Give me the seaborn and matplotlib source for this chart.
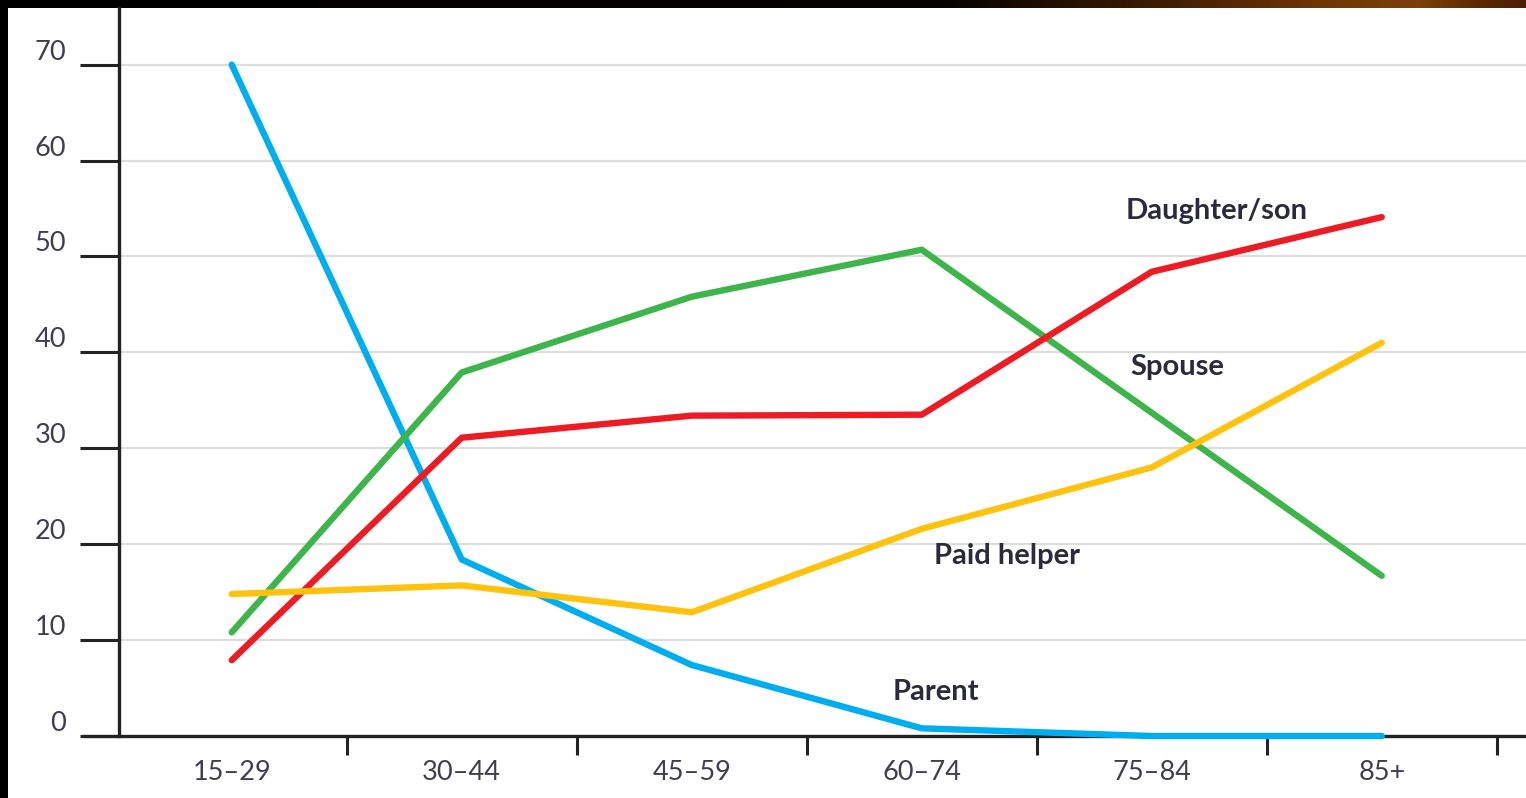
import numpy as np
import pandas as pd
import matplotlib
matplotlib.use("Agg")
import matplotlib.pyplot as plt
from matplotlib.colors import LinearSegmentedColormap
import seaborn as sns

# Age groups of the carer and who they care for (%)
age_groups = ["15–29", "30–44", "45–59", "60–74", "75–84", "85+"]
parent = [70.0, 18.4, 7.4, 0.8, 0.0, 0.0]
spouse = [10.8, 37.9, 45.8, 50.7, 33.7, 16.7]
daughter_son = [7.9, 31.1, 33.4, 33.5, 48.4, 54.1]
paid_helper = [14.8, 15.7, 12.9, 21.6, 28.0, 41.0]

series_names = ["Parent", "Spouse", "Daughter/son", "Paid helper"]
series_values = [parent, spouse, daughter_son, paid_helper]
series_colors = ["#00aeef", "#3db54a", "#ed1c24", "#ffc20e"]

y_ticks = [0, 10, 20, 30, 40, 50, 60, 70]

# inline series labels: (text, x position, y value)
label_text = ["Daughter/son", "Spouse", "Paid helper", "Parent"]
label_x = [4.28, 4.11, 3.37, 3.06]
label_y = [54.7, 38.5, 18.8, 4.6]

rows = []
for name, vals in zip(series_names, series_values):
    for i, (g, v) in enumerate(zip(age_groups, vals)):
        rows.append({"pos": i, "age": g, "series": name, "value": v})
df = pd.DataFrame(rows)

sns.set_theme(style="white")
plt.rcParams["font.family"] = ["Lato", "DejaVu Sans"]

W, H = 1526, 798
fig = plt.figure(figsize=(W / 100, H / 100), dpi=100)
fig.patch.set_facecolor("white")

# dark frame strips
top_h = 8 / H
left_w = 8 / W
strip = fig.add_axes([0, 1 - top_h, 1, top_h])
grad_cmap = LinearSegmentedColormap.from_list(
    "strip",
    [(0.0, "#000000"), (0.62, "#060300"), (0.74, "#341800"),
     (0.86, "#6e3404"), (0.93, "#7e4008"), (0.97, "#5e2a02"),
     (1.0, "#4a2000")])
strip.imshow(np.linspace(0, 1, 512)[None, :], aspect="auto", cmap=grad_cmap,
             extent=[0, 1, 0, 1])
strip.set_axis_off()
left_strip = fig.add_axes([0, 0, left_w, 1 - top_h])
left_strip.set_facecolor("black")
left_strip.set_xticks([])
left_strip.set_yticks([])
for s in left_strip.spines.values():
    s.set_visible(False)

# main plot area
ax_left = 119 / W
ax_bottom = (H - 736) / H
ax = fig.add_axes([ax_left, ax_bottom, 1 - ax_left, (736 - 8) / H])
ax.set_facecolor("white")

sns.lineplot(data=df, x="pos", y="value", hue="series",
             hue_order=series_names, palette=series_colors,
             linewidth=4.6, ax=ax, legend=False, sort=False)
for line in ax.lines:
    line.set_solid_capstyle("round")
    line.set_solid_joinstyle("round")
    line.set_clip_on(False)
    line.set_zorder(3)

ax.set_xlim(-0.49, 5.627)
ax.set_ylim(0, 75.9)

# y axis
ax.set_yticks(y_ticks)
ax.set_yticklabels([str(v) for v in y_ticks])
ax.tick_params(axis="y", which="major", length=28, width=2.2, color="#222222",
               pad=10, labelsize=19.5, labelcolor="#3e3e50", left=True)
for lab in ax.get_yticklabels():
    lab.set_verticalalignment("bottom")

# x axis: category labels at centers, ticks on group boundaries
ax.set_xticks(range(len(age_groups)))
ax.set_xticklabels(age_groups)
ax.set_xticks(np.arange(0.5, len(age_groups), 1.0), minor=True)
ax.tick_params(axis="x", which="major", length=0, pad=17, labelsize=19.5,
               labelcolor="#3e3e50", bottom=True)
ax.tick_params(axis="x", which="minor", length=14, width=2.2,
               color="#222222", bottom=True)

ax.set_xlabel("")
ax.set_ylabel("")

# grid
ax.yaxis.grid(True, color="#dddddd", linewidth=1.6)
ax.xaxis.grid(False)
ax.set_axisbelow(True)

for side in ["top", "right"]:
    ax.spines[side].set_visible(False)
ax.spines["left"].set_color("#222222")
ax.spines["left"].set_linewidth(2.4)
ax.spines["bottom"].set_color("#222222")
ax.spines["bottom"].set_linewidth(2.4)
ax.spines["bottom"].set_bounds(-0.64, 5.627)
ax.spines["bottom"].set_zorder(2.5)

for t, x, y in zip(label_text, label_x, label_y):
    ax.text(x, y, t, fontsize=21, fontweight="bold", color="#2a2a3c",
            ha="center", va="center", zorder=4)

fig.savefig("out.png", dpi=100, facecolor=fig.get_facecolor())
